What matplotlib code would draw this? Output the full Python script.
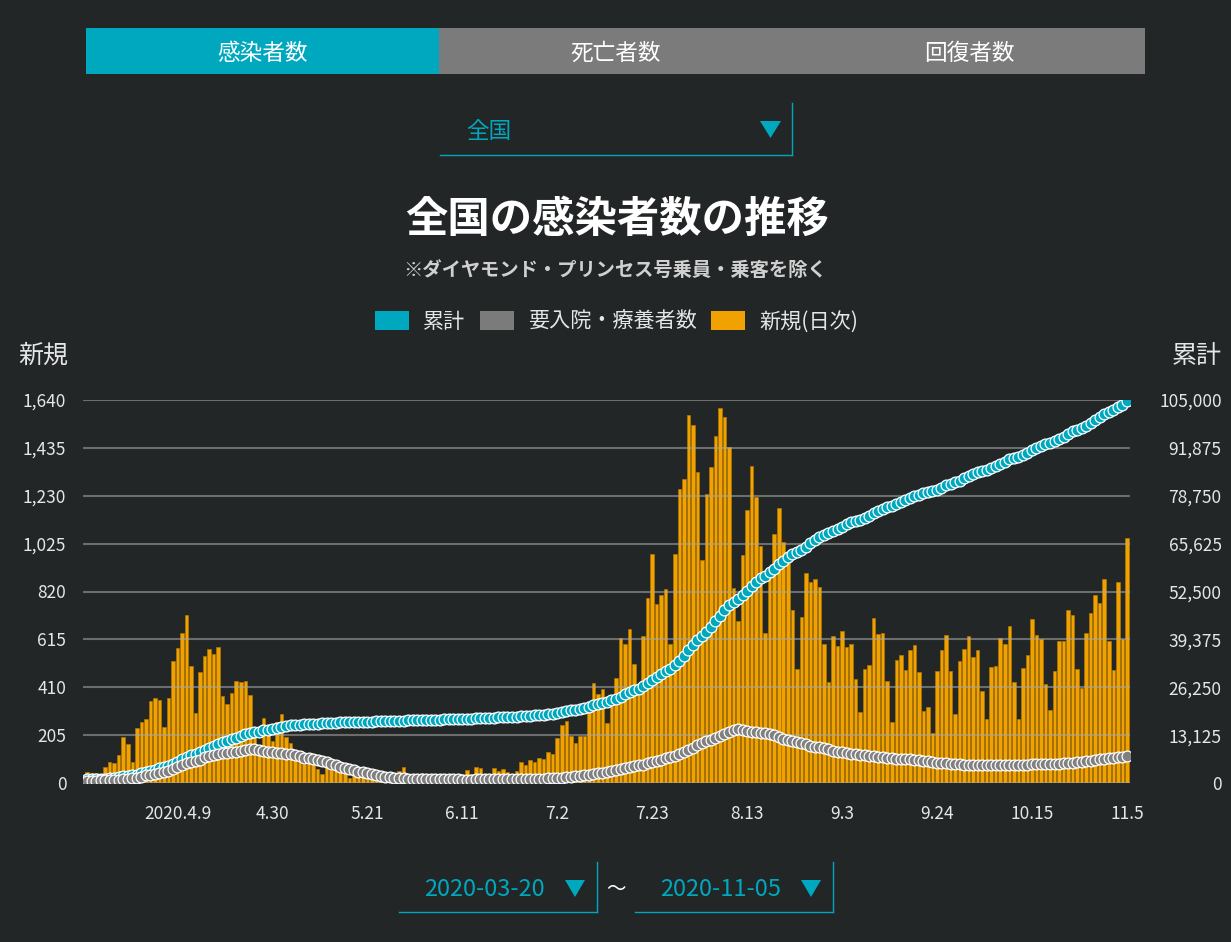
import numpy as np
import matplotlib
matplotlib.use('Agg')
import matplotlib.pyplot as plt
from matplotlib.patches import Rectangle, Polygon
from matplotlib.lines import Line2D

plt.rcParams['font.family'] = ['Noto Sans CJK JP', 'DejaVu Sans']

# daily new cases (新規), one value per day 2020-03-20 .. 2020-11-05
daily = [48, 43, 41, 39, 67, 90, 87, 118, 197, 167, 88, 237, 261, 274, 352, 364, 355, 238, 364, 522,
         576, 641, 718, 502, 298, 475, 542, 575, 552, 582, 371, 340, 385, 437, 432, 437, 377, 200, 160, 277,
         215, 180, 261, 295, 195, 170, 120, 95, 80, 85, 100, 60, 40, 75, 55, 95, 55, 45, 20, 30,
         30, 35, 30, 25, 30, 25, 20, 30, 35, 53, 68, 40, 35, 30, 44, 35, 40, 40, 35, 30,
         25, 35, 25, 40, 56, 38, 67, 64, 37, 38, 64, 50, 58, 48, 37, 51, 91, 77, 100, 88,
         107, 104, 133, 125, 191, 248, 267, 203, 173, 203, 203, 351, 428, 380, 402, 255, 340, 448, 619, 594,
         658, 508, 420, 628, 793, 979, 765, 803, 832, 594, 979, 1261, 1300, 1577, 1535, 1330, 957, 1237, 1353, 1484,
         1604, 1567, 1437, 836, 694, 976, 1169, 1357, 1224, 1015, 644, 905, 1066, 1176, 1032, 990, 741, 488, 712, 899,
         859, 872, 839, 596, 432, 629, 588, 651, 584, 594, 447, 305, 488, 504, 708, 639, 642, 437, 263, 527,
         547, 484, 568, 591, 475, 307, 324, 213, 478, 568, 635, 479, 295, 524, 572, 631, 538, 568, 395, 275,
         495, 499, 622, 596, 674, 431, 274, 492, 547, 703, 635, 618, 425, 311, 478, 609, 609, 741, 721, 488,
         405, 641, 726, 805, 771, 872, 609, 482, 862, 618, 1047]

# cumulative (累計)
cumulative = [973, 1033, 1090, 1146, 1230, 1336, 1440, 1575, 1788, 1972, 2077, 2330, 2608, 2899, 3267, 3648,
              4020, 4274, 4655, 5194, 5786, 6444, 7179, 7697, 8012, 8504, 9062, 9654, 10223, 10821, 11209,
              11566, 11967, 12421, 12870, 13323, 13717, 13934, 14110, 14404, 14636, 14832,
              15110, 15405, 15600, 15770, 15890, 15985, 16065, 16150, 16250, 16310, 16350, 16425, 16480, 16575,
              16630, 16675, 16695, 16725, 16755, 16790, 16820, 16845, 16875, 16900, 16920, 16950, 16985, 17038,
              17106, 17146, 17181, 17211, 17255, 17290, 17330, 17370, 17405, 17435, 17460, 17495, 17520, 17560,
              17616, 17654, 17721, 17785, 17822, 17860, 17924, 17974, 18032, 18080, 18117, 18168, 18259, 18336,
              18436, 18524, 18631, 18735, 18868, 18993, 19184, 19432, 19699, 19902, 20075, 20278, 20481, 20832,
              21260, 21640, 22042, 22297, 22637, 23085, 23704, 24298, 24956, 25464, 25884, 26512, 27305, 28284,
              29049, 29852, 30684, 31278, 32257, 33518, 34818, 36395, 37930, 39260, 40217, 41454, 42807, 44291,
              45895, 47462, 48899, 49735, 50429, 51405, 52574, 53931, 55155, 56170, 56814, 57719, 58785, 59961,
              60993, 61983, 62724, 63212, 63924, 64823, 65682, 66554, 67393, 67989, 68421, 69050, 69638, 70289,
              70873, 71467, 71914, 72219, 72707, 73211, 73919, 74558, 75200, 75637, 75900, 76427, 76974, 77458,
              78026, 78617, 79092, 79399, 79723, 79936, 80414, 80982, 81617, 82096, 82391, 82915, 83487, 84118,
              84656, 85224, 85619, 85894, 86389, 86888, 87510, 88106, 88780, 89211, 89485, 89977, 90524, 91227,
              91862, 92480, 92905, 93216, 93694, 94303, 94912, 95653, 96374, 96862, 97267, 97908, 98634, 99439,
              100210, 101082, 101691, 102173, 103035, 103653, 104700]

# active cases needing treatment (要入院・療養者数)
active = [600, 640, 680, 700, 740, 800, 860, 950, 1100, 1230, 1280, 1480, 1700, 2100, 2300, 2550,
          2800, 3050, 3350, 3800, 4350, 4850, 5350, 5750, 6000, 6400, 7000, 7300, 7650, 7950,
          8150, 8300, 8450, 8600, 8850, 9050, 9200, 9300, 9150, 8800, 8600, 8400, 8250, 8100,
          8000, 7850, 7650, 7400, 6950, 6750, 6600, 6400, 6100, 5700, 5200, 4800, 4400, 4050,
          3800, 3500, 3150, 2900, 2650, 2400, 2150, 1950, 1750, 1600, 1450, 1350, 1250, 1180,
          1100, 1080, 1050, 1030, 1010, 1000, 990, 980, 970, 960, 960, 950, 950, 950, 960, 970,
          970, 980, 990, 1000, 1010, 1020, 1030, 1040, 1060, 1080, 1110, 1140, 1180, 1220, 1270,
          1330, 1400, 1500, 1620, 1740, 1850, 1950, 2080, 2250, 2450, 2650, 2850, 3000, 3200,
          3450, 3750, 4050, 4350, 4600, 4800, 5050, 5400, 5750, 6050, 6400, 6800, 7050, 7400,
          7850, 8400, 9000, 9700, 10500, 11100, 11500, 11900, 12400, 12900, 13400, 13900, 14500,
          14700, 14600, 14300, 14000, 13850, 13800, 13650, 13550, 13200, 12500, 12100, 11900,
          11600, 11300, 11000, 10600, 10200, 10000, 9800, 9500, 9200, 8850, 8600, 8400, 8200,
          8050, 7900, 7750, 7650, 7500, 7350, 7200, 7050, 6900, 6800, 6700, 6600, 6500, 6450,
          6350, 6250, 6150, 6000, 5850, 5600, 5450, 5350, 5250, 5150, 5100, 5050, 5000, 4950,
          4950, 4950, 4950, 4950, 4950, 4980, 5000, 5050, 5050, 5000, 5000, 5050, 5100, 5150,
          5200, 5200, 5150, 5150, 5250, 5350, 5450, 5600, 5750, 5800, 5900, 6050, 6300, 6500,
          6650, 6800, 6900, 7050, 7250, 7400]

tick_pos = [20, 41, 62, 83, 104, 125, 146, 167, 188, 209, 230]
tick_labels = ['2020.4.9', '4.30', '5.21', '6.11', '7.2', '7.23', '8.13', '9.3', '9.24', '10.15', '11.5']
left_ticks = [0, 205, 410, 615, 820, 1025, 1230, 1435, 1640]
right_ticks = [0, 13125, 26250, 39375, 52500, 65625, 78750, 91875, 105000]

W, H = 1231, 942
BG = '#222626'
TEAL = '#00a8bf'
GRAY = '#7b7b7b'
ORANGE = '#f2a200'
TXT = '#e6e6e6'

fig = plt.figure(figsize=(W / 100, H / 100), dpi=100, facecolor=BG)


def fx(x):
    return x / W


def fy(y):
    return 1 - y / H


def rect(x0, y0, x1, y1, color):
    fig.patches.append(Rectangle((fx(x0), fy(y1)), (x1 - x0) / W, (y1 - y0) / H,
                                 transform=fig.transFigure, color=color, lw=0))


def line(x0, y0, x1, y1, color, lw=1.0):
    fig.add_artist(Line2D([fx(x0), fx(x1)], [fy(y0), fy(y1)], transform=fig.transFigure,
                          color=color, lw=lw))


def tri(xc, ytop, w, h, color):
    fig.patches.append(Polygon([(fx(xc - w / 2), fy(ytop)), (fx(xc + w / 2), fy(ytop)),
                                (fx(xc), fy(ytop + h))], closed=True,
                               transform=fig.transFigure, color=color, lw=0))


# tab bar
rect(86, 28, 439, 74, TEAL)
rect(439, 28, 1145, 74, GRAY)
for xc, s in [(263, '感染者数'), (616, '死亡者数'), (969, '回復者数')]:
    fig.text(fx(xc), fy(53), s, ha='center', va='center', color='white', fontsize=16.3)

# area selector
fig.text(fx(466), fy(132), '全国', ha='left', va='center', color=TEAL, fontsize=16.3)
tri(770.5, 121, 21, 17, TEAL)
line(440, 155, 792, 155, TEAL, 1.0)
line(792, 103, 792, 155, TEAL, 1.0)

# titles
fig.text(fx(617), fy(220), '全国の感染者数の推移', ha='center', va='center', color='white',
         fontsize=30.5, fontweight='bold')
fig.text(fx(615), fy(270), '※ダイヤモンド・プリンセス号乗員・乗客を除く', ha='center', va='center',
         color='#d0d0d0', fontsize=13.9, fontweight='bold')

# legend
for x0, c, s in [(375, TEAL, '累計'), (480, GRAY, '要入院・療養者数'), (711, ORANGE, '新規(日次)')]:
    rect(x0, 311, x0 + 34, 330, c)
    fig.text(fx(x0 + 48), fy(322), s, ha='left', va='center', color=TXT, fontsize=15.2)

fig.text(fx(18), fy(356), '新規', ha='left', va='center', color=TXT, fontsize=18)
fig.text(fx(1222), fy(356), '累計', ha='right', va='center', color=TXT, fontsize=18)

# chart
ax = fig.add_axes([fx(83), fy(783), (1130 - 83) / W, (783 - 400) / H])
ax.set_facecolor(BG)
x = np.arange(len(daily))
ax.bar(x, daily, width=0.78, color=ORANGE, edgecolor='#b07800', linewidth=0.5, zorder=1)
ax.set_xlim(-0.9, 230.7)
ax.set_ylim(0, 1640)
ax.set_yticks(left_ticks, labels=[f'{v:,}' for v in left_ticks])
ax.set_xticks(tick_pos, labels=tick_labels)
ax.set_axisbelow(False)
ax.grid(axis='y', color='#a8a8a8', alpha=0.55, lw=1.5)
ax.tick_params(axis='y', length=0, colors=TXT, labelsize=12.5, pad=12)
ax.tick_params(axis='x', length=0, colors=TXT, labelsize=12.5, pad=16)
for sp in ax.spines.values():
    sp.set_visible(False)

ax2 = ax.twinx()
ax2.set_ylim(0, 105000)
ax2.plot(x, cumulative, 'o', ms=7.8, mfc=TEAL, mec='white', mew=0.9, zorder=3)
ax2.plot(x, active, 'o', ms=7.8, mfc='#808080', mec='white', mew=0.9, zorder=4)
ax2.set_yticks(right_ticks, labels=[f'{v:,}' for v in right_ticks], ha='right')
ax2.tick_params(axis='y', length=0, colors=TXT, labelsize=12.5, pad=66)
for sp in ax2.spines.values():
    sp.set_visible(False)

# date range selectors
for x0, x1, s in [(399, 597, '2020-03-20'), (635, 833, '2020-11-05')]:
    fig.text(fx(x0 + 25), fy(890), s, ha='left', va='center', color=TEAL, fontsize=17)
    tri(x1 - 22, 880, 20, 17, TEAL)
    line(x0, 912, x1, 912, TEAL, 1.0)
    line(x1, 862, x1, 912, TEAL, 1.0)
fig.text(fx(616), fy(889), '〜', ha='center', va='center', color='white', fontsize=14)

fig.savefig('out.png', facecolor=BG)
